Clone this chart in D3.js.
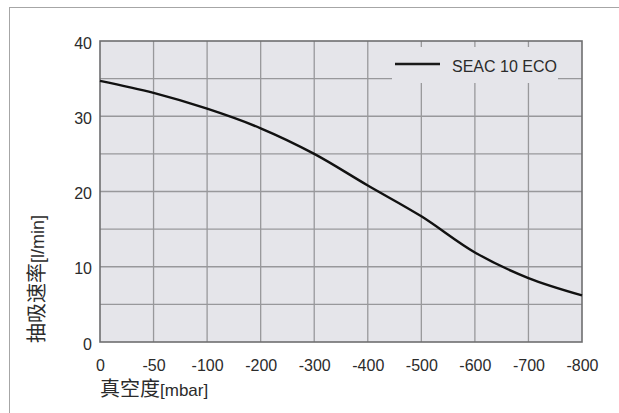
<!DOCTYPE html>
<html>
<head>
<meta charset="utf-8">
<script src="https://cdn.jsdelivr.net/npm/d3@7"></script>
<style>
  body { margin: 0; background: #fff; }
  svg text { font-family: "Liberation Sans", Arial, sans-serif; fill: #2b2b2b; }
  .cjk { font-family: "Noto Sans CJK SC", sans-serif; }
</style>
</head>
<body>
<svg id="chart" width="619" height="413"></svg>
<script>
// data
const vacuum = ["0", "-50", "-100", "-200", "-300", "-400", "-500", "-600", "-700", "-800"];
const flow = [34.7, 33.1, 31.0, 28.4, 25.0, 20.8, 16.7, 11.9, 8.5, 6.2];
const yTicks = [0, 10, 20, 30, 40];
const yGrid = [5, 10, 15, 20, 25, 30, 35];
const seriesName = "SEAC 10 ECO";

const margin = { top: 41, left: 100 };
const width = 482;
const height = 301;

const root = d3.select("#chart");

// outer frame (only top and left show in the picture)
root.append("line").attr("x1", 9).attr("x2", 619).attr("y1", 7.5).attr("y2", 7.5)
  .attr("stroke", "#a6a6a6").attr("stroke-width", 1);
root.append("line").attr("x1", 9.5).attr("x2", 9.5).attr("y1", 7).attr("y2", 413)
  .attr("stroke", "#a6a6a6").attr("stroke-width", 1);

const svg = root.append("g")
  .attr("transform", "translate(" + margin.left + "," + margin.top + ")");

// scales
const x = d3.scalePoint().domain(vacuum).range([0, width]);
const y = d3.scaleLinear().domain([0, 40]).range([height, 0]);

// plot background
svg.append("rect")
  .attr("width", width).attr("height", height)
  .attr("fill", "#e5e5ea");

// grid
svg.selectAll(".hgrid").data(yGrid).enter().append("line")
  .attr("class", "hgrid")
  .attr("x1", 0).attr("x2", width)
  .attr("y1", (d) => y(d)).attr("y2", (d) => y(d))
  .attr("stroke", "#98989b").attr("stroke-width", 1.3);
svg.selectAll(".vgrid").data(vacuum.slice(1, -1)).enter().append("line")
  .attr("class", "vgrid")
  .attr("x1", (d) => x(d)).attr("x2", (d) => x(d))
  .attr("y1", 0).attr("y2", height)
  .attr("stroke", "#98989b").attr("stroke-width", 1.3);

// plot border
svg.append("rect")
  .attr("width", width).attr("height", height)
  .attr("fill", "none").attr("stroke", "#6e6e70").attr("stroke-width", 1.6);

// axes (labels only)
const xAxis = d3.axisBottom(x).tickSize(0).tickPadding(18);
const yAxis = d3.axisLeft(y).tickValues(yTicks).tickSize(0).tickPadding(8);
svg.append("g").attr("transform", "translate(0," + height + ")").call(xAxis)
  .call((g) => g.select(".domain").remove())
  .selectAll("text").attr("font-size", 16).attr("font-family", null).attr("fill", null);
svg.append("g").call(yAxis)
  .call((g) => g.select(".domain").remove())
  .selectAll("text").attr("font-size", 16).attr("font-family", null).attr("fill", null)
  .attr("dy", "0.45em");

// legend box hides the grid
const legend = svg.append("g").attr("transform", "translate(292,6)");
legend.append("rect").attr("width", 166).attr("height", 36).attr("fill", "#e5e5ea");
legend.append("line").attr("x1", 3).attr("x2", 48).attr("y1", 17).attr("y2", 17)
  .attr("stroke", "#1a1a1a").attr("stroke-width", 2.4);
legend.append("text").attr("x", 60).attr("y", 25).attr("font-size", 16).text(seriesName);

// curve
const line = d3.line()
  .x((d, i) => x(vacuum[i]))
  .y((d) => y(d))
  .curve(d3.curveCatmullRom.alpha(0.5));
svg.append("path")
  .datum(flow)
  .attr("d", line)
  .attr("fill", "none")
  .attr("stroke", "#111")
  .attr("stroke-width", 2.4);

// axis titles
const xt = root.append("text").attr("x", 100).attr("y", 396);
xt.append("tspan").attr("class", "cjk").attr("font-size", 20).text("真空度");
xt.append("tspan").attr("font-size", 17).text("[mbar]");

const yt = root.append("text").attr("transform", "translate(44,343) rotate(-90)");
yt.append("tspan").attr("class", "cjk").attr("font-size", 20).text("抽吸速率");
yt.append("tspan").attr("font-size", 18).text("[l/min]");
</script>
</body>
</html>
